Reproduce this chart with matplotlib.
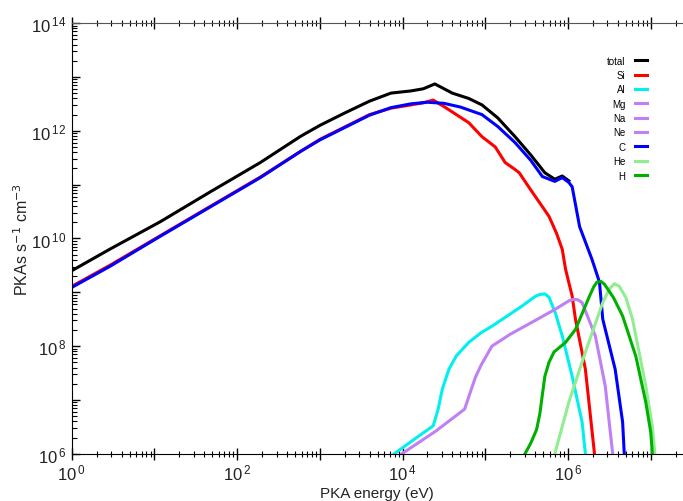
import matplotlib.pyplot as plt
from matplotlib.ticker import FixedLocator, FuncFormatter, NullFormatter
import numpy as np

plt.rcParams['font.family'] = ['Liberation Sans', 'DejaVu Sans']

# curves as (log10 E, log10 rate)
total_lx = [0.0, 0.46, 1.07, 1.68, 2.28, 2.77, 3.0, 3.3, 3.6, 3.86, 4.1, 4.25, 4.39, 4.6, 4.8, 4.96, 5.15, 5.36, 5.55, 5.72, 5.84, 5.93, 6.01]
total_ly = [9.40, 9.80, 10.31, 10.87, 11.41, 11.90, 12.10, 12.33, 12.55, 12.70, 12.74, 12.78, 12.87, 12.70, 12.60, 12.48, 12.24, 11.89, 11.55, 11.22, 11.10, 11.16, 11.07]

si_lx = [0.0, 0.46, 1.07, 1.68, 2.28, 2.77, 3.0, 3.3, 3.6, 3.86, 4.1, 4.25, 4.37, 4.51, 4.65, 4.80, 4.96, 5.12, 5.24, 5.36, 5.41, 5.55, 5.69, 5.77, 5.86, 5.93, 5.97, 6.05, 6.09, 6.21, 6.32]
si_ly = [9.11, 9.50, 10.05, 10.60, 11.14, 11.62, 11.84, 12.07, 12.30, 12.42, 12.48, 12.52, 12.57, 12.44, 12.30, 12.15, 11.89, 11.70, 11.41, 11.28, 11.22, 10.90, 10.59, 10.41, 10.10, 9.80, 9.43, 8.93, 8.50, 7.57, 6.00]

al_lx = [3.90, 4.15, 4.37, 4.43, 4.48, 4.56, 4.65, 4.80, 4.95, 5.08, 5.44, 5.60, 5.66, 5.72, 5.77, 5.85, 5.93, 6.05, 6.17, 6.21]
al_ly = [6.00, 6.28, 6.52, 6.83, 7.20, 7.57, 7.82, 8.07, 8.25, 8.37, 8.74, 8.92, 8.96, 8.97, 8.91, 8.60, 8.19, 7.44, 6.59, 6.00]

mg_lx = [3.99, 4.40, 4.75, 4.82, 4.88, 4.95, 5.08, 5.30, 5.56, 5.84, 6.02, 6.07, 6.12, 6.17, 6.33, 6.45, 6.54]
mg_ly = [6.00, 6.42, 6.83, 7.15, 7.42, 7.65, 8.00, 8.22, 8.44, 8.68, 8.85, 8.87, 8.86, 8.81, 8.19, 7.26, 6.00]

c_lx = [0.0, 0.46, 1.07, 1.68, 2.28, 2.77, 3.0, 3.3, 3.6, 3.86, 4.1, 4.3, 4.5, 4.7, 4.96, 5.15, 5.36, 5.55, 5.69, 5.84, 5.93, 6.01, 6.05, 6.14, 6.29, 6.38, 6.42, 6.57, 6.66, 6.68]
c_ly = [9.09, 9.48, 10.04, 10.59, 11.13, 11.62, 11.83, 12.06, 12.29, 12.43, 12.50, 12.53, 12.51, 12.44, 12.30, 12.08, 11.78, 11.45, 11.15, 11.06, 11.13, 11.04, 10.96, 10.22, 9.61, 9.19, 8.50, 7.57, 6.59, 6.00]

he_lx = [5.84, 6.01, 6.21, 6.42, 6.50, 6.56, 6.62, 6.70, 6.78, 6.94, 7.02, 7.05]
he_ly = [6.00, 6.96, 7.89, 8.81, 9.06, 9.16, 9.11, 8.90, 8.50, 7.26, 6.50, 6.00]

h_lx = [5.48, 5.55, 5.62, 5.66, 5.69, 5.72, 5.77, 5.83, 5.97, 6.09, 6.26, 6.31, 6.35, 6.40, 6.44, 6.55, 6.66, 6.82, 6.94, 7.00, 7.02]
h_ly = [6.00, 6.20, 6.45, 6.75, 7.10, 7.44, 7.70, 7.89, 8.07, 8.31, 8.93, 9.10, 9.19, 9.20, 9.15, 8.90, 8.56, 7.81, 6.96, 6.40, 6.00]

series = [
    ('total', total_lx, total_ly, 'black'),
    ('Si', si_lx, si_ly, '#ff0000'),
    ('Al', al_lx, al_ly, '#00f0f0'),
    ('Mg', mg_lx, mg_ly, '#bf80f5'),
    ('Na', [], [], '#bf80f5'),
    ('Ne', [], [], '#bf80f5'),
    ('C', c_lx, c_ly, '#0000ff'),
    ('He', he_lx, he_ly, '#90ee90'),
    ('H', h_lx, h_ly, '#00b000'),
]

fig = plt.figure(figsize=(6.83, 5.02), dpi=100)
ax = fig.add_axes([0.105, 0.094, 0.895, 0.858])

for name, lx, ly, col in series:
    ax.plot(10 ** np.array(lx, dtype=float), 10 ** np.array(ly, dtype=float),
            color=col, lw=2.2, label=name, solid_joinstyle='round')

ax.set_xscale('log')
ax.set_yscale('log')
ax.set_xlim(1, 10 ** 7.39)
ax.set_ylim(1e6, 1e14)


def sup_fmt(v, pos):
    k = int(round(np.log10(v)))
    if k % 2:
        return ''
    return r'$\mathregular{10^{\,%d}}$' % k


ax.xaxis.set_major_locator(FixedLocator([10.0 ** k for k in range(0, 8)]))
ax.yaxis.set_major_locator(FixedLocator([10.0 ** k for k in range(6, 15)]))
ax.xaxis.set_major_formatter(FuncFormatter(sup_fmt))
ax.yaxis.set_major_formatter(FuncFormatter(sup_fmt))
minors_x = [m * 10.0 ** k for k in range(0, 8) for m in range(2, 10)]
minors_y = [m * 10.0 ** k for k in range(6, 14) for m in range(2, 10)]
ax.xaxis.set_minor_locator(FixedLocator(minors_x))
ax.yaxis.set_minor_locator(FixedLocator(minors_y))
ax.xaxis.set_minor_formatter(NullFormatter())
ax.yaxis.set_minor_formatter(NullFormatter())

ax.tick_params(axis='x', which='major', direction='inout', length=9, width=1,
               top=True, labelsize=12, pad=2, labelcolor='#222222')
ax.tick_params(axis='x', which='minor', direction='inout', length=5, width=0.8, top=True)
ax.tick_params(axis='y', which='major', direction='in', length=6, width=1,
               labelsize=12, pad=4, labelcolor='#222222')
ax.tick_params(axis='y', which='minor', direction='in', length=3.5, width=0.8)

ax.spines['right'].set_visible(False)
ax.spines['top'].set_color('#555555')

ax.set_xlabel('PKA energy (eV)', fontsize=11, labelpad=2, color='#222222')
ax.set_ylabel(r'PKAs s$^{-1}$ cm$^{-3}$', fontsize=11.5, color='#222222')
ax.yaxis.set_label_coords(-0.066, 0.5)

ax.legend(loc='upper right', bbox_to_anchor=(0.955, 0.945), frameon=False,
          markerfirst=False, fontsize=7, handlelength=1.2, handletextpad=1.0,
          labelspacing=0.45)

fig.savefig('out.png', dpi=100)
